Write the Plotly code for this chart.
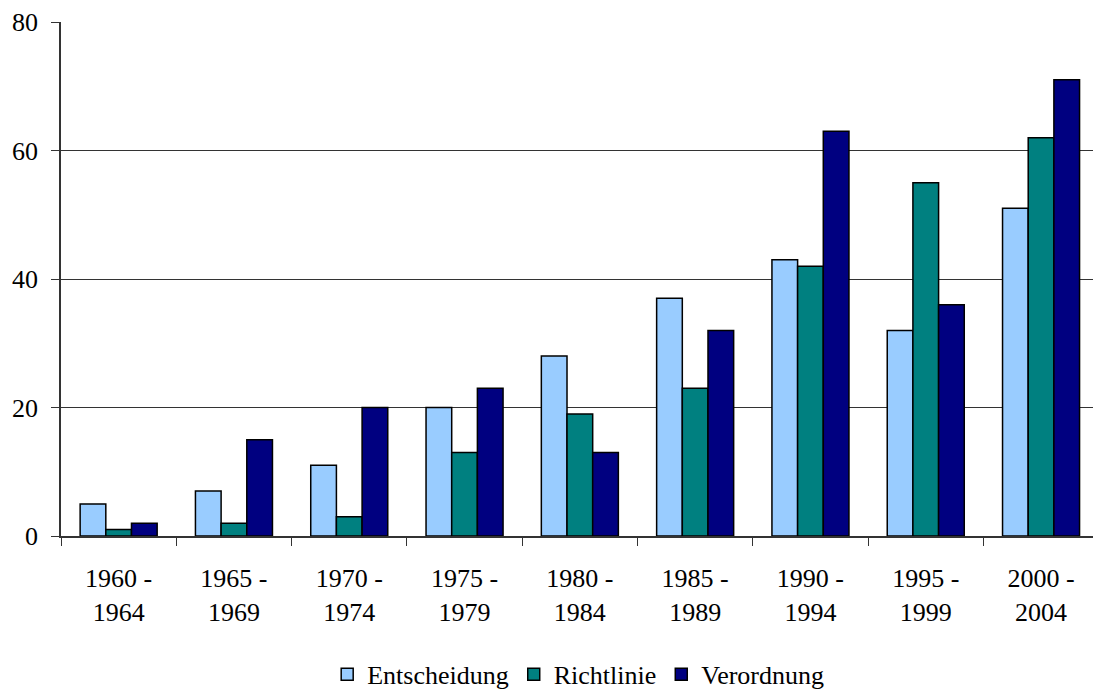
import plotly.graph_objects as go

# Five-year periods on the category axis
periods = ["1960 -<br>1964", "1965 -<br>1969", "1970 -<br>1974", "1975 -<br>1979",
           "1980 -<br>1984", "1985 -<br>1989", "1990 -<br>1994", "1995 -<br>1999",
           "2000 -<br>2004"]

# Counts per legal act type
entscheidung = [5, 7, 11, 20, 28, 37, 43, 32, 51]
richtlinie = [1, 2, 3, 13, 19, 23, 42, 55, 62]
verordnung = [2, 15, 20, 23, 13, 32, 63, 36, 71]

y_ticks = [0, 20, 40, 60, 80]

series = [
    ("Entscheidung", entscheidung, "#99CCFF"),
    ("Richtlinie", richtlinie, "#008080"),
    ("Verordnung", verordnung, "#000080"),
]

FONT = "Liberation Serif, Times New Roman, serif"

fig = go.Figure()
for name, vals, color in series:
    fig.add_trace(go.Bar(
        x=periods, y=vals, name=name,
        marker=dict(color=color, line=dict(color="black", width=1.5)),
    ))

fig.update_layout(
    width=1093, height=693,
    margin=dict(l=61, r=0, t=22, b=157),
    paper_bgcolor="white", plot_bgcolor="white",
    barmode="group", bargap=0.332, bargroupgap=0,
    font=dict(family=FONT, size=26, color="black"),
    showlegend=True,
    legend=dict(
        orientation="h", xref="container", yref="container",
        x=0.529, xanchor="center", y=0.027, yanchor="middle",
        font=dict(family=FONT, size=26, color="black"),
        itemwidth=30, tracegroupgap=0,
    ),
)

fig.update_xaxes(
    type="category",
    range=[-0.5, -0.5 + 1032 / 115.3],
    showline=True, linecolor="#333333", linewidth=1.5,
    ticks="outside", tickson="boundaries", ticklen=8, tickcolor="#333333",
    ticklabelstandoff=18,
    tickfont=dict(family=FONT, size=26, color="black"),
    showgrid=False,
)
fig.update_yaxes(
    range=[0, 80], tickvals=y_ticks,
    showline=True, linecolor="#333333", linewidth=1.5,
    ticks="outside", ticklen=8, tickcolor="#333333",
    ticklabelstandoff=8,
    showgrid=True, gridcolor="#333333", gridwidth=1,
    zeroline=False,
    tickfont=dict(family=FONT, size=26, color="black"),
)

fig.write_html("out.html")
